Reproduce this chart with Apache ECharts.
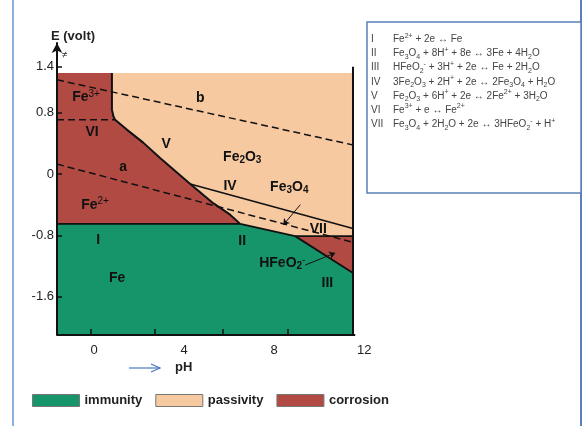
<!DOCTYPE html>
<html>
<head>
<meta charset="utf-8">
<script src="https://cdn.jsdelivr.net/npm/echarts@6/dist/echarts.min.js"></script>
<style>html,body{margin:0;padding:0;background:#fff}#c{width:583px;height:426px}</style>
</head>
<body>
<div id="c"></div>
<script>
// ---- axes ----
const xTickLabels = [0, 4, 8, 12];
const xTickMarks = [-0.13, 2.71, 5.73, 8.62];
const yTickValues = [1.4, 0.8, 0, -0.8, -1.6];

// ---- plot frame (pH, E) ----
const phLeft = -1.65, phRight = 11.5, eTop = 1.32, eBottom = -2.1;

// ---- boundary lines (pH, E in volt) ----
const lineV = [[0.79,1.32],[0.79,0.84],[0.86,0.75],[0.93,0.71],[1.45,0.58],[2.18,0.41],[2.93,0.21],[4.27,-0.13],[5.29,-0.38],[6.04,-0.53],[6.49,-0.65]];
const lineI = [[-1.65,-0.65],[6.49,-0.65]];
const lineII = [[6.49,-0.65],[8.93,-0.81]];
const lineIII = [[8.93,-0.81],[11.5,-1.29]];
const lineIV = [[4.27,-0.13],[11.5,-0.71]];
const lineVII = [[8.93,-0.81],[11.5,-0.81]];
const lineVI = [[-1.65,0.71],[0.93,0.71]];
const lineA = [[-1.65,0.13],[11.5,-0.89]];
const lineB = [[-1.65,1.23],[11.5,0.38]];
const rightEdge = [[11.5,1.40],[11.5,-2.1]];
const bottomEdge = [[-1.65,-2.1],[11.6,-2.1]];

// ---- regions ----
const immunityRegion = [[-1.65,-0.65],[6.49,-0.65],[8.93,-0.81],[11.5,-1.29],[11.5,-2.1],[-1.65,-2.1]];
const corrosionRegionFe = [[-1.65,1.32]].concat(lineV, [[-1.65,-0.65]]);
const corrosionRegionHFeO2 = [[8.93,-0.81],[11.5,-0.81],[11.5,-1.29]];
const passivityRegion = [[11.5,1.32],[11.5,-0.81],[8.93,-0.81]].concat(lineV.slice().reverse());

// ---- arrows ----
const arrowFe3O4 = [[9.16,-0.40],[8.40,-0.665]];
const arrowHFeO2 = [[9.38,-1.187],[10.71,-1.03]];

// ---- region labels ----
const labelNames = ['Fe^{3+}','VI','V','a','b','Fe_{2}O_{3}','IV','Fe_{3}O_{4}','VII','II','HFeO_{2}^{-}','III','I','Fe','Fe^{2+}'];
const labelPH = [-0.36,-0.09,3.2,1.29,4.71,6.58,6.04,8.67,9.96,6.58,8.36,10.36,0.18,1.02,0.04];
const labelE = [1.0,0.55,0.39,0.09,0.99,0.22,-0.16,-0.17,-0.72,-0.87,-1.16,-1.42,-0.86,-1.36,-0.40];

// ---- reaction list ----
const eqNumerals = ['I','II','III','IV','V','VI','VII'];
const eqTexts = [
  'Fe^{2+} + 2e ↔ Fe',
  'Fe_{3}O_{4} + 8H^{+} + 8e ↔ 3Fe + 4H_{2}O',
  'HFeO_{2}^{-} + 3H^{+} + 2e ↔ Fe + 2H_{2}O',
  '3Fe_{2}O_{3} + 2H^{+} + 2e ↔ 2Fe_{3}O_{4} + H_{2}O',
  'Fe_{2}O_{3} + 6H^{+} + 2e ↔ 2Fe^{2+} + 3H_{2}O',
  'Fe^{3+} + e ↔ Fe^{2+}',
  'Fe_{3}O_{4} + 2H_{2}O + 2e ↔ 3HFeO_{2}^{-} + H^{+}'
];

const legendNames = ['immunity','passivity','corrosion'];
const colors = {immunity:'#17956a', passivity:'#f7c9a1', corrosion:'#b24a44'};
const FF = '"Liberation Sans", Arial, Helvetica, sans-serif';

const toRich = s => s.replace(/\^\{([^}]*)\}/g,'{sup|$1}').replace(/_\{([^}]*)\}/g,'{sub|$1}');

function regionSeries(name, polys, z) {
  return {
    type: 'custom', name: name, coordinateSystem: 'cartesian2d', silent: true, z: z,
    itemStyle: {color: colors[name]},
    data: polys.map(p => p[0]),
    renderItem: function (params, api) {
      const pts = polys[params.dataIndex].map(pt => api.coord(pt));
      return {type: 'polygon', shape: {points: pts}, style: {fill: colors[name], stroke: null}};
    }
  };
}
function lineSeries(data, width, dashed) {
  return {
    type: 'line', data: data, symbol: 'none', silent: true, z: 5, animation: false,
    lineStyle: {color: '#111', width: width, type: dashed ? [7, 4] : 'solid'}
  };
}

const chart = echarts.init(document.getElementById('c'), null, {renderer: 'canvas'});

const eqGraphics = [];
eqNumerals.forEach((n, i) => {
  const y = 39.5 + i * 14.1;
  eqGraphics.push({type: 'text', left: 371, top: y - 7, style: {text: n, fontSize: 10, fontFamily: FF, fill: '#444', lineHeight: 14}});
  eqGraphics.push({type: 'text', left: 393, top: y - 7, style: {
    text: toRich(eqTexts[i]), fontSize: 10, fontFamily: FF, fill: '#444', lineHeight: 14,
    rich: {
      sup: {fontSize: 7, fontFamily: FF, fill: '#444', verticalAlign: 'top', lineHeight: 9},
      sub: {fontSize: 7, fontFamily: FF, fill: '#444', verticalAlign: 'bottom', lineHeight: 9}
    }
  }});
});

const option = {
  animation: false,
  backgroundColor: '#ffffff',
  grid: {left: 57, top: 43, width: 314, height: 292, containLabel: false},
  legend: {
    data: legendNames, left: 32, top: 394, itemWidth: 47, itemHeight: 12, itemGap: 13,
    icon: 'rect', selectedMode: false, padding: 0,
    itemStyle: {borderColor: '#777', borderWidth: 1},
    textStyle: {fontSize: 13, fontWeight: 'bold', color: '#222', fontFamily: FF}
  },
  xAxis: {
    type: 'value', min: phLeft, max: 12.3, z: 10,
    axisLine: {show: false, onZero: false}, splitLine: {show: false},
    axisTick: {show: true, inside: true, length: 6, customValues: xTickMarks, lineStyle: {color: '#111', width: 1.5}},
    axisLabel: {customValues: xTickLabels, fontSize: 13, color: '#222', margin: 9, fontFamily: FF}
  },
  yAxis: {
    type: 'value', min: -2.1, max: 1.71, z: 10,
    axisLine: {show: true, onZero: false, lineStyle: {color: '#111', width: 2}, symbol: ['none', 'arrow'], symbolSize: [8, 10]},
    splitLine: {show: false},
    axisTick: {show: true, inside: true, length: 5, customValues: yTickValues, lineStyle: {color: '#111', width: 1.5}},
    axisLabel: {customValues: yTickValues, fontSize: 13, color: '#222', margin: 3, fontFamily: FF, formatter: v => String(v)}
  },
  graphic: [
    {type: 'line', shape: {x1: 13, y1: 0, x2: 13, y2: 426}, style: {stroke: '#8db0dc', lineWidth: 2}},
    {type: 'line', shape: {x1: 581, y1: 0, x2: 581, y2: 426}, style: {stroke: '#5a80b8', lineWidth: 2}},
    {type: 'rect', shape: {x: 367, y: 22, width: 214, height: 171}, style: {fill: '#fff', stroke: '#5a80b8', lineWidth: 1.5}},
    {type: 'text', left: 51, top: 30, style: {text: 'E (volt)', fontSize: 13, fontWeight: 'bold', fontFamily: FF, fill: '#222'}},
    {type: 'text', left: 62, top: 50, style: {text: '≠', fontSize: 10, fontFamily: FF, fill: '#222'}},
    {type: 'line', shape: {x1: 129, y1: 368, x2: 160, y2: 368}, style: {stroke: '#4a78c2', lineWidth: 1.2}},
    {type: 'polyline', shape: {points: [[151, 364], [160, 368], [151, 372]]}, style: {stroke: '#4a78c2', lineWidth: 1.2, fill: null}},
    {type: 'text', left: 175, top: 361, style: {text: 'pH', fontSize: 13, fontWeight: 'bold', fontFamily: FF, fill: '#222'}}
  ].concat(eqGraphics),
  series: [
    regionSeries('passivity', [passivityRegion], 1),
    regionSeries('corrosion', [corrosionRegionFe, corrosionRegionHFeO2], 1),
    regionSeries('immunity', [immunityRegion], 1),
    lineSeries(lineV, 2, false),
    lineSeries(lineI, 1.8, false),
    lineSeries(lineII, 1.8, false),
    lineSeries(lineIII, 1.8, false),
    lineSeries(lineIV, 1.6, false),
    lineSeries(lineVII, 1.6, false),
    lineSeries(rightEdge, 2, false),
    lineSeries(bottomEdge, 2, false),
    lineSeries(lineVI, 1.5, true),
    lineSeries(lineA, 1.5, true),
    lineSeries(lineB, 1.5, true),
    {
      type: 'lines', coordinateSystem: 'cartesian2d', silent: true, z: 6,
      symbol: ['none', 'arrow'], symbolSize: 6,
      lineStyle: {color: '#111', width: 1, opacity: 1},
      data: [{coords: arrowFe3O4}, {coords: arrowHFeO2}]
    },
    {
      type: 'scatter', silent: true, z: 7, symbolSize: 1,
      itemStyle: {color: 'rgba(0,0,0,0)', opacity: 1},
      data: labelNames.map((n, i) => [labelPH[i], labelE[i], n]),
      label: {
        show: true, position: 'inside', fontFamily: FF,
        formatter: p => toRich(p.data[2]),
        fontSize: 14, fontWeight: 'bold', color: '#111', lineHeight: 16,
        textBorderWidth: 0, opacity: 1,
        rich: {
          sup: {fontSize: 10, fontWeight: 'normal', color: '#111', verticalAlign: 'top', lineHeight: 10, fontFamily: FF},
          sub: {fontSize: 10, fontWeight: 'bold', color: '#111', verticalAlign: 'bottom', lineHeight: 10, fontFamily: FF}
        }
      }
    }
  ]
};
chart.setOption(option);
</script>
</body>
</html>
